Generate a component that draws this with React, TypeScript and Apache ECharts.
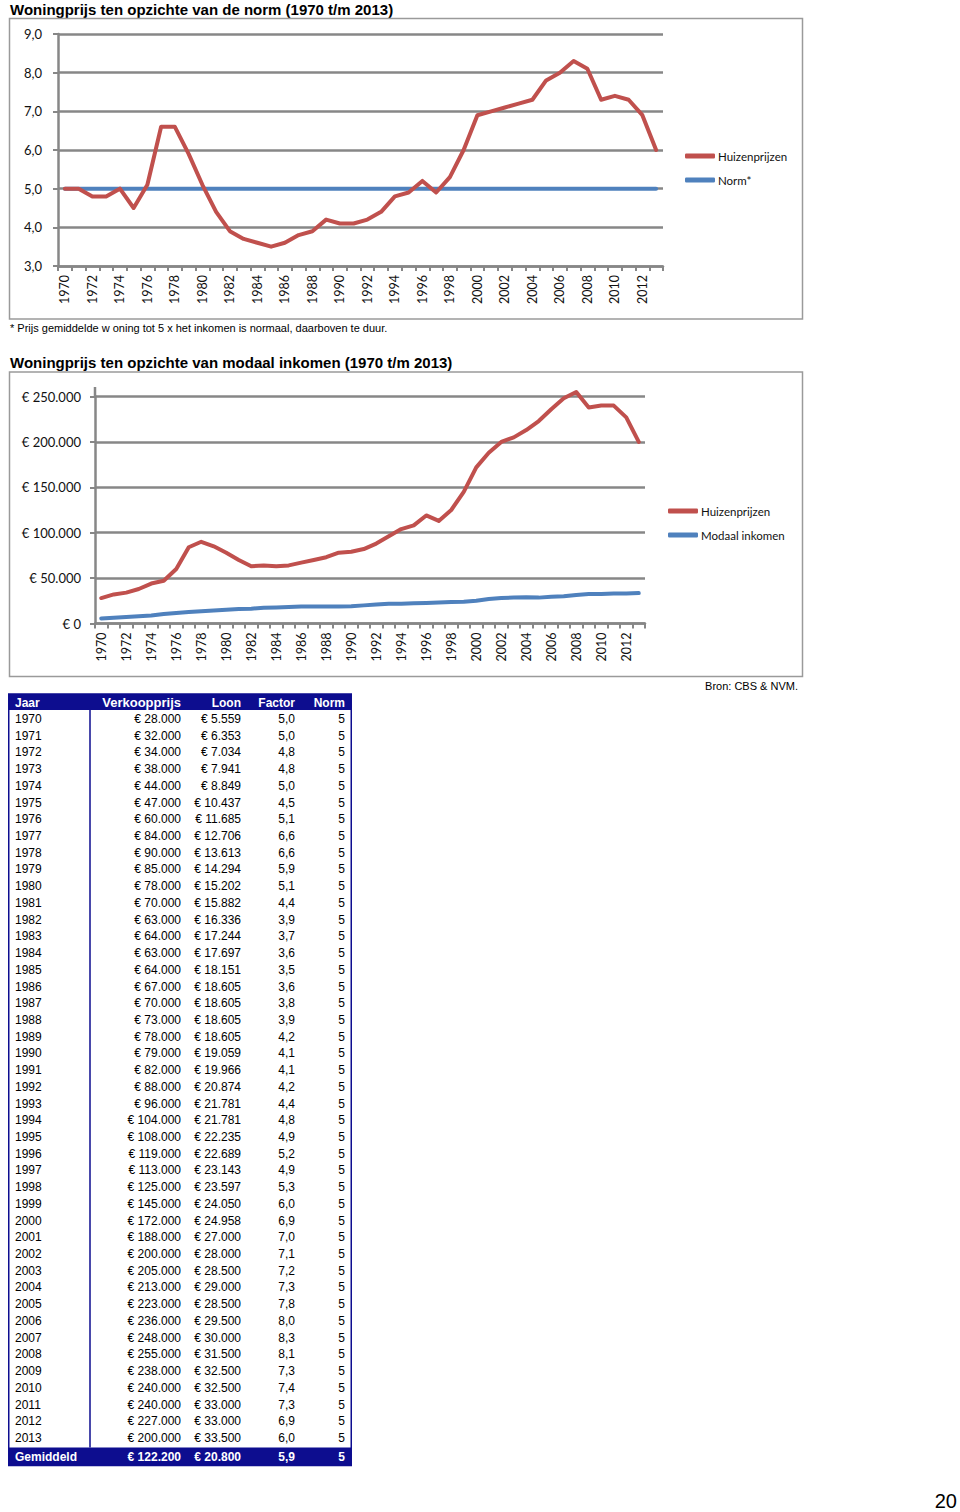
import React, { useEffect, useRef } from 'react';
import * as echarts from 'echarts';

const years = [
  '1970', '1971', '1972', '1973', '1974', '1975', '1976', '1977', '1978', '1979',
  '1980', '1981', '1982', '1983', '1984', '1985', '1986', '1987', '1988', '1989',
  '1990', '1991', '1992', '1993', '1994', '1995', '1996', '1997', '1998', '1999',
  '2000', '2001', '2002', '2003', '2004', '2005', '2006', '2007', '2008', '2009',
  '2010', '2011', '2012', '2013',
];
const prices = [
  28000, 32000, 34000, 38000, 44000, 47000, 60000, 84000, 90000, 85000,
  78000, 70000, 63000, 64000, 63000, 64000, 67000, 70000, 73000, 78000,
  79000, 82000, 88000, 96000, 104000, 108000, 119000, 113000, 125000, 145000,
  172000, 188000, 200000, 205000, 213000, 223000, 236000, 248000, 255000, 238000,
  240000, 240000, 227000, 200000,
];
const wages = [
  5559, 6353, 7034, 7941, 8849, 10437, 11685, 12706, 13613, 14294,
  15202, 15882, 16336, 17244, 17697, 18151, 18605, 18605, 18605, 18605,
  19059, 19966, 20874, 21781, 21781, 22235, 22689, 23143, 23597, 24050,
  24958, 27000, 28000, 28500, 29000, 28500, 29500, 30000, 31500, 32500,
  32500, 33000, 33000, 33500,
];
const factors = [
  5.0, 5.0, 4.8, 4.8, 5.0, 4.5, 5.1, 6.6, 6.6, 5.9,
  5.1, 4.4, 3.9, 3.7, 3.6, 3.5, 3.6, 3.8, 3.9, 4.2,
  4.1, 4.1, 4.2, 4.4, 4.8, 4.9, 5.2, 4.9, 5.3, 6.0,
  6.9, 7.0, 7.1, 7.2, 7.3, 7.8, 8.0, 8.3, 8.1, 7.3,
  7.4, 7.3, 6.9, 6.0,
];
const norm = [
  5, 5, 5, 5, 5, 5, 5, 5, 5, 5,
  5, 5, 5, 5, 5, 5, 5, 5, 5, 5,
  5, 5, 5, 5, 5, 5, 5, 5, 5, 5,
  5, 5, 5, 5, 5, 5, 5, 5, 5, 5,
  5, 5, 5, 5,
];
const tableHeader = ['Jaar', 'Verkoopprijs', 'Loon', 'Factor', 'Norm'];
const averageLabel = 'Gemiddeld';
const averagePrice = 122200;
const averageWage = 20800;
const averageFactor = 5.9;
const averageNorm = 5;

const title1 = 'Woningprijs ten opzichte van de norm (1970 t/m 2013)';
const title2 = 'Woningprijs ten opzichte van modaal inkomen (1970 t/m 2013)';
const footnote = '* Prijs gemiddelde w oning tot 5 x het inkomen is normaal, daarboven te duur.';
const source = 'Bron: CBS & NVM.';
const pageNumber = '20';

const RED = '#C0504D';
const BLUE = '#4F81BD';
const GRID = '#878787';
const FRAME = '#9a9a9a';
const NAVY = '#0d0d8f';
const LABEL_FONT = 'Lato';
const ARIAL = '"Liberation Sans", Arial, sans-serif';

const euro = (v: number) => '€ ' + String(v).replace(/\B(?=(\d{3})+(?!\d))/g, '.');
const comma1 = (v: number) => v.toFixed(1).replace('.', ',');

function txt(text: string, x: number, y: number, font: string, align = 'left', fill = '#000') {
  return {
    type: 'text',
    x,
    y,
    silent: true,
    style: {
      text,
      font,
      fill,
      align,
      verticalAlign: 'middle',
      textAlign: align,
      textVerticalAlign: 'middle',
    },
  };
}

function buildTable() {
  const els: any[] = [];
  const left = 8;
  const right = 352;
  const headTop = 694;
  const headBottom = 710;
  const rowStart = 719;
  const rowStep = 16.72;
  const avgTop = 1447.5;
  const avgBottom = 1465.5;
  const colRight = [0, 181, 241, 295, 345];
  const yearX = 15;

  els.push({ type: 'rect', shape: { x: left, y: headTop, width: right - left, height: headBottom - headTop }, style: { fill: NAVY }, silent: true });
  els.push({ type: 'rect', shape: { x: left, y: avgTop, width: right - left, height: avgBottom - avgTop }, style: { fill: NAVY }, silent: true });
  els.push({ type: 'rect', shape: { x: left + 0.75, y: headTop, width: right - left - 1.5, height: avgBottom - headTop }, style: { fill: 'none', stroke: NAVY, lineWidth: 1.5 }, silent: true });
  els.push({ type: 'line', shape: { x1: 90, y1: headBottom, x2: 90, y2: avgTop }, style: { stroke: NAVY, lineWidth: 1.5 }, silent: true });

  const bold = `bold 12px ${ARIAL}`;
  const reg = `12px ${ARIAL}`;
  const hy = (headTop + headBottom) / 2 + 0.5;
  els.push(txt(tableHeader[0], yearX, hy, bold, 'left', '#fff'));
  els.push(txt(tableHeader[1], colRight[1], hy, `bold 13px ${ARIAL}`, 'right', '#fff'));
  for (let c = 2; c < 5; c++) els.push(txt(tableHeader[c], colRight[c], hy, bold, 'right', '#fff'));

  years.forEach((yr, i) => {
    const y = rowStart + i * rowStep;
    els.push(txt(yr, yearX, y, reg));
    els.push(txt(euro(prices[i]), colRight[1], y, reg, 'right'));
    els.push(txt(euro(wages[i]), colRight[2], y, reg, 'right'));
    els.push(txt(comma1(factors[i]), colRight[3], y, reg, 'right'));
    els.push(txt(String(norm[i]), colRight[4], y, reg, 'right'));
  });

  const ay = (avgTop + avgBottom) / 2 + 0.5;
  els.push(txt(averageLabel, yearX, ay, bold, 'left', '#fff'));
  els.push(txt(euro(averagePrice), colRight[1], ay, bold, 'right', '#fff'));
  els.push(txt(euro(averageWage), colRight[2], ay, bold, 'right', '#fff'));
  els.push(txt(comma1(averageFactor), colRight[3], ay, bold, 'right', '#fff'));
  els.push(txt(String(averageNorm), colRight[4], ay, bold, 'right', '#fff'));
  return els;
}

export default function App() {
  const ref = useRef<HTMLDivElement>(null);

  useEffect(() => {
    if (!ref.current) return;
    const chart = echarts.init(ref.current, undefined, { renderer: 'svg' });

    const xAxisCommon = {
      type: 'category',
      data: years,
      boundaryGap: true,
      axisLine: { show: true, lineStyle: { color: GRID, width: 2.5 } },
      axisTick: { show: true, interval: 0, length: 5, lineStyle: { color: GRID, width: 2 } },
      axisLabel: { interval: 1, rotate: 90, fontFamily: LABEL_FONT, fontSize: 12.5, color: '#111', margin: 9 },
      splitLine: { show: false },
    };
    const yAxisCommon = {
      type: 'value',
      axisLine: { show: true, lineStyle: { color: GRID, width: 2.5 } },
      axisTick: { show: true, length: 5, lineStyle: { color: GRID, width: 2 } },
      splitLine: { show: true, lineStyle: { color: GRID, width: 2.5 } },
    };

    const legendCommon = {
      orient: 'vertical',
      itemWidth: 30,
      itemHeight: 5,
      itemGap: 12,
      padding: 0,
      icon: 'roundRect',
      selectedMode: false,
      textStyle: { fontFamily: LABEL_FONT, fontSize: 11.5, color: '#111', padding: [0, 0, 0, -2] },
    };

    const option: any = {
      animation: false,
      backgroundColor: '#fff',
      grid: [
        { left: 58, top: 34, width: 605, height: 232, containLabel: false },
        { left: 95, top: 396.5, width: 550, height: 227, containLabel: false },
      ],
      xAxis: [
        { ...xAxisCommon, gridIndex: 0 },
        { ...xAxisCommon, gridIndex: 1 },
      ],
      yAxis: [
        {
          ...yAxisCommon,
          gridIndex: 0,
          min: 3,
          max: 9,
          interval: 1,
          axisLabel: { formatter: (v: number) => comma1(v), fontFamily: LABEL_FONT, fontSize: 13, color: '#111', margin: 16 },
        },
        {
          ...yAxisCommon,
          gridIndex: 1,
          min: 0,
          max: 250000,
          interval: 50000,
          axisLabel: { formatter: (v: number) => euro(v), fontFamily: LABEL_FONT, fontSize: 13, color: '#111', margin: 14 },
        },
      ],
      legend: [
        { ...legendCommon, data: ['Huizenprijzen', 'Norm*'], left: 685, top: 150 },
        { ...legendCommon, data: ['Huizenprijzen', 'Modaal inkomen'], left: 668, top: 505 },
      ],
      series: [
        {
          name: 'Huizenprijzen',
          type: 'line',
          xAxisIndex: 0,
          yAxisIndex: 0,
          data: factors,
          symbol: 'none',
          clip: false,
          color: RED,
          itemStyle: { color: RED },
          lineStyle: { color: RED, width: 4, cap: 'round', join: 'round' },
          z: 5,
        },
        {
          name: 'Norm*',
          type: 'line',
          xAxisIndex: 0,
          yAxisIndex: 0,
          data: norm,
          symbol: 'none',
          clip: false,
          color: BLUE,
          itemStyle: { color: BLUE },
          lineStyle: { color: BLUE, width: 4, cap: 'round' },
          z: 4,
        },
        {
          name: 'Huizenprijzen',
          type: 'line',
          xAxisIndex: 1,
          yAxisIndex: 1,
          data: prices,
          symbol: 'none',
          clip: false,
          color: RED,
          itemStyle: { color: RED },
          lineStyle: { color: RED, width: 4, cap: 'round', join: 'round' },
          z: 5,
        },
        {
          name: 'Modaal inkomen',
          type: 'line',
          xAxisIndex: 1,
          yAxisIndex: 1,
          data: wages,
          symbol: 'none',
          clip: false,
          color: BLUE,
          itemStyle: { color: BLUE },
          lineStyle: { color: BLUE, width: 4, cap: 'round', join: 'round' },
          z: 4,
        },
      ],
      graphic: [
        txt(title1, 10, 9, `bold 15px ${ARIAL}`),
        { type: 'rect', silent: true, shape: { x: 9.5, y: 18.5, width: 793, height: 300.5 }, style: { fill: 'none', stroke: FRAME, lineWidth: 1.5 } },
        txt(footnote, 10, 328, `11px ${ARIAL}`),
        txt(title2, 10, 362, `bold 15px ${ARIAL}`),
        { type: 'rect', silent: true, shape: { x: 9.5, y: 372, width: 793, height: 304.5 }, style: { fill: 'none', stroke: FRAME, lineWidth: 1.5 } },
        { type: 'line', silent: true, shape: { x1: 95, y1: 387, x2: 95, y2: 397 }, style: { stroke: GRID, lineWidth: 2.5 } },
        txt(source, 798, 686, `11px ${ARIAL}`, 'right'),
        ...buildTable(),
        txt(pageNumber, 957, 1501, `20px ${ARIAL}`, 'right'),
      ],
    };

    chart.setOption(option);
    return () => chart.dispose();
  }, []);

  return <div ref={ref} style={{ position: 'absolute', left: 0, top: 0, width: 960, height: 1512 }} />;
}
